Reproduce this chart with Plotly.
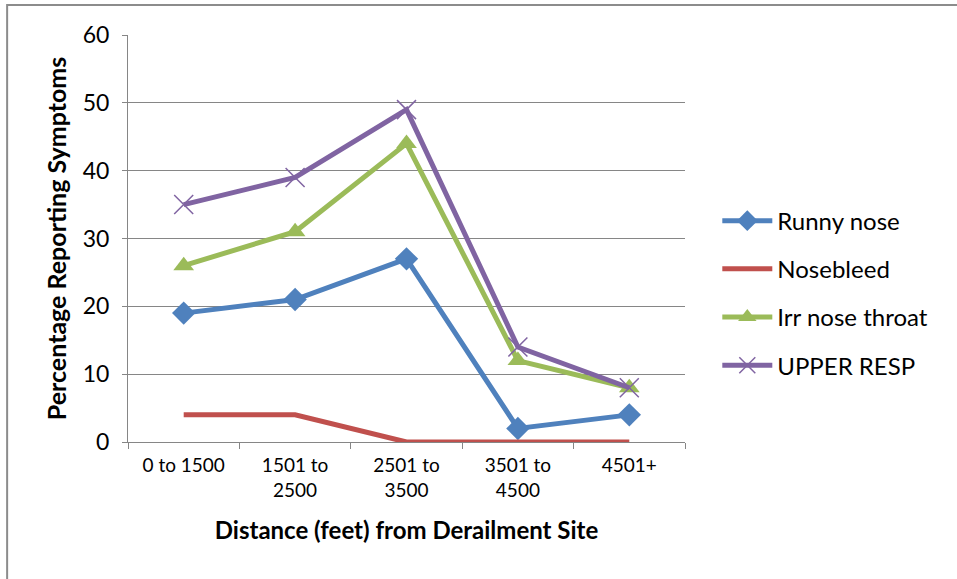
import plotly.graph_objects as go

# Distance bands from the derailment site
categories = ["0 to 1500", "1501 to<br>2500", "2501 to<br>3500", "3501 to<br>4500", "4501+"]

# Percentage of respondents reporting each symptom
runny_nose = [19, 21, 27, 2, 4]
nosebleed = [4, 4, 0, 0, 0]
irr_nose_throat = [26, 31, 44, 12, 8]
upper_resp = [35, 39, 49, 14, 8]

y_ticks = [0, 10, 20, 30, 40, 50, 60]

FONT = "Lato, Carlito, Calibri, sans-serif"

series = [
    ("Runny nose", runny_nose, "#4F81BD", dict(symbol="diamond", size=18)),
    ("Nosebleed", nosebleed, "#C0504D", None),
    ("Irr nose throat", irr_nose_throat, "#9BBB59", dict(symbol="triangle-up", size=18)),
    ("UPPER RESP", upper_resp, "#8064A2", dict(symbol="x-thin-open", size=19,
                                                line=dict(width=1.5, color="#8064A2"))),
]

fig = go.Figure()
for name, vals, color, marker in series:
    if marker is None:
        fig.add_trace(go.Scatter(x=categories, y=vals, name=name, mode="lines",
                                 line=dict(color=color, width=5),
                                 legendgroup=name))
    else:
        m = dict(color=color, **marker)
        fig.add_trace(go.Scatter(x=categories, y=vals, name=name, mode="lines+markers",
                                 line=dict(color=color, width=5), marker=m,
                                 legendgroup=name))

fig.update_layout(
    width=957, height=579,
    margin=dict(l=128, r=272, t=35, b=137),
    paper_bgcolor="white", plot_bgcolor="white",
    font=dict(family=FONT, color="black"),
    showlegend=True,
    legend=dict(x=1.058, y=0.366, xanchor="left", yanchor="middle",
                font=dict(size=24, family=FONT), tracegroupgap=14,
                itemwidth=50,
                bgcolor="rgba(0,0,0,0)"),
    xaxis=dict(
        type="category", range=[-0.5, 4.5],
        showline=True, linecolor="#868686", linewidth=1,
        ticks="outside", tickson="boundaries", ticklen=6, tickcolor="#868686",
        tickfont=dict(size=19, family=FONT), ticklabelstandoff=6,
        showgrid=False, zeroline=False,
        title=dict(text="<b>Distance (feet) from Derailment Site</b>",
                   font=dict(size=24, family=FONT), standoff=22),
    ),
    yaxis=dict(
        range=[0, 60], tickvals=y_ticks,
        showline=True, linecolor="#868686", linewidth=1,
        ticks="outside", ticklen=5, tickcolor="#868686",
        tickfont=dict(size=23, family=FONT), ticklabelstandoff=8,
        showgrid=True, gridcolor="#868686", gridwidth=1,
        zeroline=False,
        title=dict(text="<b>Percentage Reporting Symptoms</b>",
                   font=dict(size=25, family=FONT), standoff=8),
    ),
)

# Chart frame
fig.add_shape(type="rect", xref="paper", yref="paper",
              x0=-0.217, y0=-1.0, x1=2.0, y1=1.0737,
              line=dict(color="#8c8c8c", width=2), layer="below")

fig.write_html("out.html")
